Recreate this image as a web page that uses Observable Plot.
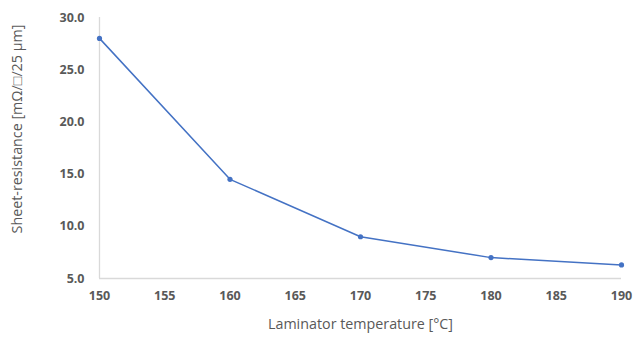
<!DOCTYPE html>
<html>
<head>
<meta charset="utf-8">
<script src="https://cdn.jsdelivr.net/npm/d3@7"></script>
<script src="https://cdn.jsdelivr.net/npm/@observablehq/plot@0.6"></script>
<style>
  html, body { margin: 0; padding: 0; background: #fff; }
</style>
</head>
<body>
<div id="chart"></div>
<script>
const temperatures = [150, 160, 170, 180, 190];
const resistances = [28.0, 14.5, 9.0, 7.0, 6.3];
const xTicks = [150, 155, 160, 165, 170, 175, 180, 185, 190];
const yTicks = [5, 10, 15, 20, 25, 30];
const xLabel = "Laminator temperature [°C]";
const yLabel = "Sheet-resistance [mΩ/□/25 µm]";

const data = temperatures.map((t, i) => ({t, r: resistances[i]}));

const chart = Plot.plot({
  width: 633,
  height: 339,
  marginLeft: 99,
  marginRight: 12,
  marginTop: 17,
  marginBottom: 61,
  style: {fontFamily: "'Open Sans', sans-serif", color: "#595959", background: "#fff"},
  x: {domain: [150, 190]},
  y: {domain: [5, 30]},
  marks: [
    Plot.ruleX([150], {stroke: "#d9d9d9", strokeWidth: 1.3}),
    Plot.ruleY([5], {stroke: "#d9d9d9", strokeWidth: 1.3}),
    Plot.axisX({ticks: xTicks, tickSize: 0, tickPadding: 13, label: null, fontSize: 12.5, fontWeight: "bold", tickFormat: d => String(d)}),
    Plot.axisY({ticks: yTicks, tickSize: 0, tickPadding: 15, label: null, fontSize: 12.5, fontWeight: "bold", tickFormat: d => d.toFixed(1)}),
    Plot.line(data, {x: "t", y: "r", stroke: "#4472C4", strokeWidth: 1.5}),
    Plot.dot(data, {x: "t", y: "r", fill: "#4472C4", r: 2.6}),
    Plot.text([xLabel], {frameAnchor: "bottom", dy: 50, fontSize: 14.3, fill: "#595959"}),
    Plot.text([yLabel], {frameAnchor: "left", textAnchor: "middle", dx: -82, dy: -19, rotate: -90, fontSize: 14.3, fill: "#595959"})
  ]
});
document.getElementById("chart").appendChild(chart);
</script>
</body>
</html>
